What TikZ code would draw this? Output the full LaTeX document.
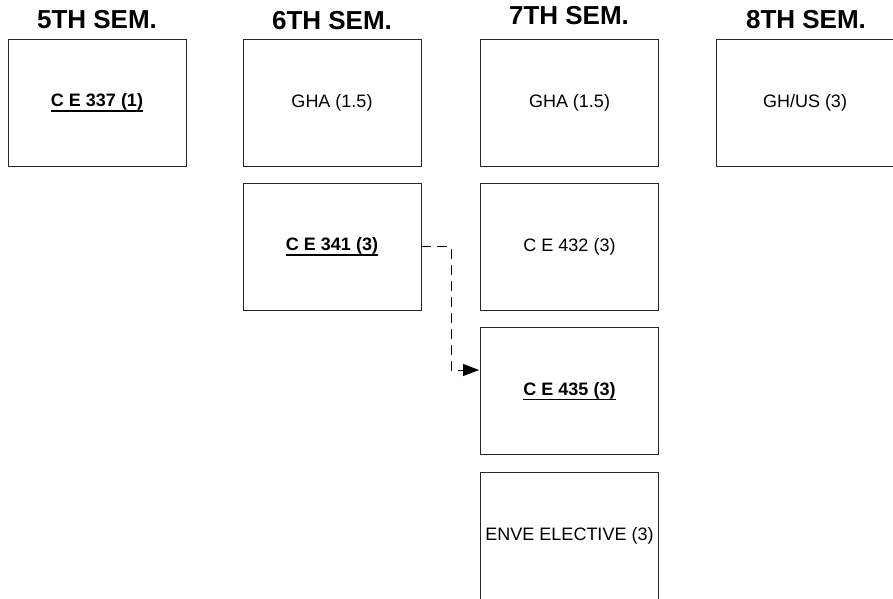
\documentclass[tikz,border=0pt]{standalone}
\usepackage{fontspec}
\setmainfont{Liberation Sans}
\usetikzlibrary{arrows.meta}

\tikzset{
    sembox/.style={draw=black!85, line width=0.9pt, minimum width=178pt,
        minimum height=127pt, inner sep=0pt, font=\fontsize{18}{22}\selectfont},
    semtitle/.style={inner sep=0pt, font=\fontsize{26}{30}\selectfont\bfseries},
}
\newsavebox{\crsbox}
\newcommand{\keycrs}[1]{\sbox{\crsbox}{\bfseries #1}\rlap{\rule[-5pt]{\wd\crsbox}{1.4pt}}\usebox{\crsbox}}

\begin{document}
\begin{tikzpicture}[x=1pt, y=-1pt]
    \useasboundingbox (0,0) rectangle (893,598);

    % semester headings
    \node[semtitle] (s5) at (97,20) {5TH SEM.};
    \node[semtitle] (s6) at (332,21) {6TH SEM.};
    \node[semtitle] (s7) at (569,16) {7TH SEM.};
    \node[semtitle] (s8) at (806,20) {8TH SEM.};

    % 5th
    \node[sembox] (ce337) at (97,102.5) {\keycrs{C E 337 (1)}};

    % 6th
    \node[sembox] (gha6) at (332,102.5) {GHA (1.5)};
    \node[sembox] (ce341) at (332,246.5) {\keycrs{C E 341 (3)}};

    % 7th
    \node[sembox] (gha7) at (569.5,102.5) {GHA (1.5)};
    \node[sembox] (ce432) at (569.5,246.5) {C E 432 (3)};
    \node[sembox] (ce435) at (569.5,391) {\keycrs{C E 435 (3)}};
    \node[sembox] (enve) at (569.5,535.5) {ENVE ELECTIVE (3)};

    % 8th
    \node[sembox] (ghus) at (805,102.5) {GH/US (3)};

    % prerequisite link
    \coordinate (hit) at (479,370);
    \draw[line width=0.9pt, dash pattern=on 10pt off 6pt, -{Triangle[length=16pt,width=12pt]}]
        (ce341.east) -- ++(30,0) |- (hit);
\end{tikzpicture}
\end{document}
